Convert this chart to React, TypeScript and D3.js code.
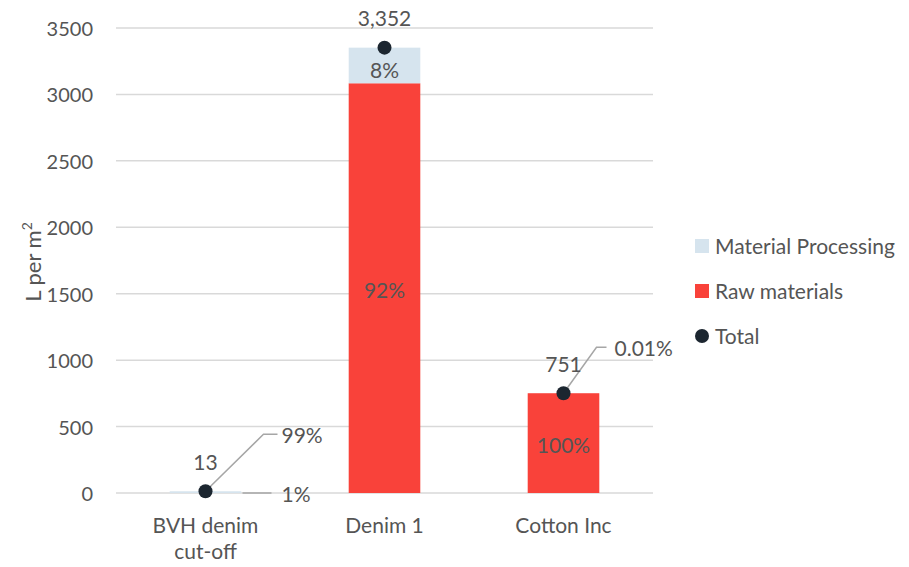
import React from "react";
import * as d3 from "d3";

// Water use per square metre, split into stages
const categories = ["BVH denim|cut-off", "Denim 1", "Cotton Inc"];
const rawMaterials = [0.13, 3084, 751];
const materialProcessing = [12.87, 268, 0.075];
const totals = [13, 3352, 751];
const totalLabels = ["13", "3,352", "751"];
const processingShare = ["99%", "8%", "0.01%"];
const rawShare = ["1%", "92%", "100%"];
const yTicks = [0, 500, 1000, 1500, 2000, 2500, 3000, 3500];
const legendItems = ["Material Processing", "Raw materials", "Total"];

const W = 909;
const H = 567;
const FONT = "Lato, 'Open Sans', sans-serif";
const TEXT = "#555555";
const RED = "#f9423a";
const BLUE = "#d6e4ee";
const DOT = "#1c2630";
const GRID = "#d9d9d9";
const FS = 21;

export default function App() {
  const x = d3
    .scaleBand<string>()
    .domain(categories)
    .range([116, 653])
    .paddingInner(0.6)
    .paddingOuter(0.3);
  const y = d3.scaleLinear().domain([0, 3500]).range([493, 28]);
  const bw = x.bandwidth();
  const cx = (c: string) => (x(c) as number) + bw / 2;

  return (
    <svg
      width={W}
      height={H}
      style={{ position: "absolute", left: 0, top: 0, background: "#fff" }}
      fontFamily={FONT}
    >
      {/* gridlines and tick labels */}
      {yTicks.map((t) => (
        <g key={t}>
          <line x1={116} x2={653} y1={y(t)} y2={y(t)} stroke={GRID} strokeWidth={1.5} />
          <text x={93} y={y(t) + 1} dy="0.35em" textAnchor="end" fontSize={20} fill={TEXT}>
            {t}
          </text>
        </g>
      ))}

      {/* axis title */}
      <text
        transform={`translate(41,${262}) rotate(-90)`}
        textAnchor="middle"
        fontSize={22}
        fill={TEXT}
      >
        L per m<tspan dy="-9" fontSize={14}>2</tspan>
      </text>

      {/* stacked bars */}
      {categories.map((c, i) => {
        const r = rawMaterials[i];
        const p = materialProcessing[i];
        return (
          <g key={c}>
            <rect x={x(c)} y={y(r)} width={bw} height={y(0) - y(r)} fill={RED} />
            <rect x={x(c)} y={y(r + p)} width={bw} height={y(r) - y(r + p)} fill={BLUE} />
          </g>
        );
      })}

      {/* in-bar share labels */}
      {(() => {
        const c1 = categories[1];
        const c2 = categories[2];
        const r1 = rawMaterials[1];
        const p1 = materialProcessing[1];
        const r2 = rawMaterials[2];
        return (
          <g fontSize={FS} fill={TEXT} textAnchor="middle">
            <text x={cx(c1)} y={y(r1 + p1 / 2) + 5} dy="0.35em">{processingShare[1]}</text>
            <text x={cx(c1)} y={y(r1 / 2) + 3} dy="0.35em">{rawShare[1]}</text>
            <text x={cx(c2)} y={y(r2 / 2) + 3} dy="0.35em">{rawShare[2]}</text>
          </g>
        );
      })()}

      {/* leader lines with share labels */}
      {(() => {
        const c0 = categories[0];
        const c2 = categories[2];
        const b0 = cx(c0);
        const b2 = cx(c2);
        const t0 = y(totals[0]);
        const t2 = y(totals[2]);
        return (
          <g stroke="#a6a6a6" strokeWidth={1.5} fill="none">
            <polyline points={`${b0},${t0} ${b0 + 58},${t0 - 57} ${b0 + 72},${t0 - 57}`} />
            <line x1={b0 + 37} x2={b0 + 66} y1={y(0)} y2={y(0)} />
            <polyline points={`${b2},${t2} ${b2 + 33},${t2 - 46} ${b2 + 43},${t2 - 46}`} />
          </g>
        );
      })()}
      {(() => {
        const b0 = cx(categories[0]);
        const b2 = cx(categories[2]);
        const t0 = y(totals[0]);
        const t2 = y(totals[2]);
        return (
          <g fontSize={FS} fill={TEXT}>
            <text x={b0 + 76} y={t0 - 56} dy="0.35em">{processingShare[0]}</text>
            <text x={b0 + 76} y={y(0) + 2} dy="0.35em">{rawShare[0]}</text>
            <text x={b2 + 51} y={t2 - 45} dy="0.35em">{processingShare[2]}</text>
          </g>
        );
      })()}

      {/* totals */}
      {categories.map((c, i) => (
        <g key={c}>
          <circle cx={cx(c)} cy={y(totals[i])} r={7} fill={DOT} />
          <text
            x={cx(c)}
            y={y(totals[i]) - 29}
            dy="0.35em"
            textAnchor="middle"
            fontSize={FS}
            fill={TEXT}
          >
            {totalLabels[i]}
          </text>
        </g>
      ))}

      {/* category labels */}
      {categories.map((c) => (
        <text key={c} x={cx(c)} y={526} textAnchor="middle" fontSize={FS} fill={TEXT}>
          {c.split("|").map((line, j) => (
            <tspan key={j} x={cx(c)} dy={j === 0 ? "0.35em" : 26}>
              {line}
            </tspan>
          ))}
        </text>
      ))}

      {/* legend */}
      {legendItems.map((name, i) => {
        const ly = 246 + i * 45;
        return (
          <g key={name}>
            {i < 2 ? (
              <rect x={695} y={ly - 7} width={14} height={14} fill={i === 0 ? BLUE : RED} />
            ) : (
              <circle cx={702} cy={ly} r={7} fill={DOT} />
            )}
            <text x={715} y={ly + 1} dy="0.35em" fontSize={FS} fill={TEXT}>
              {name}
            </text>
          </g>
        );
      })}
    </svg>
  );
}
